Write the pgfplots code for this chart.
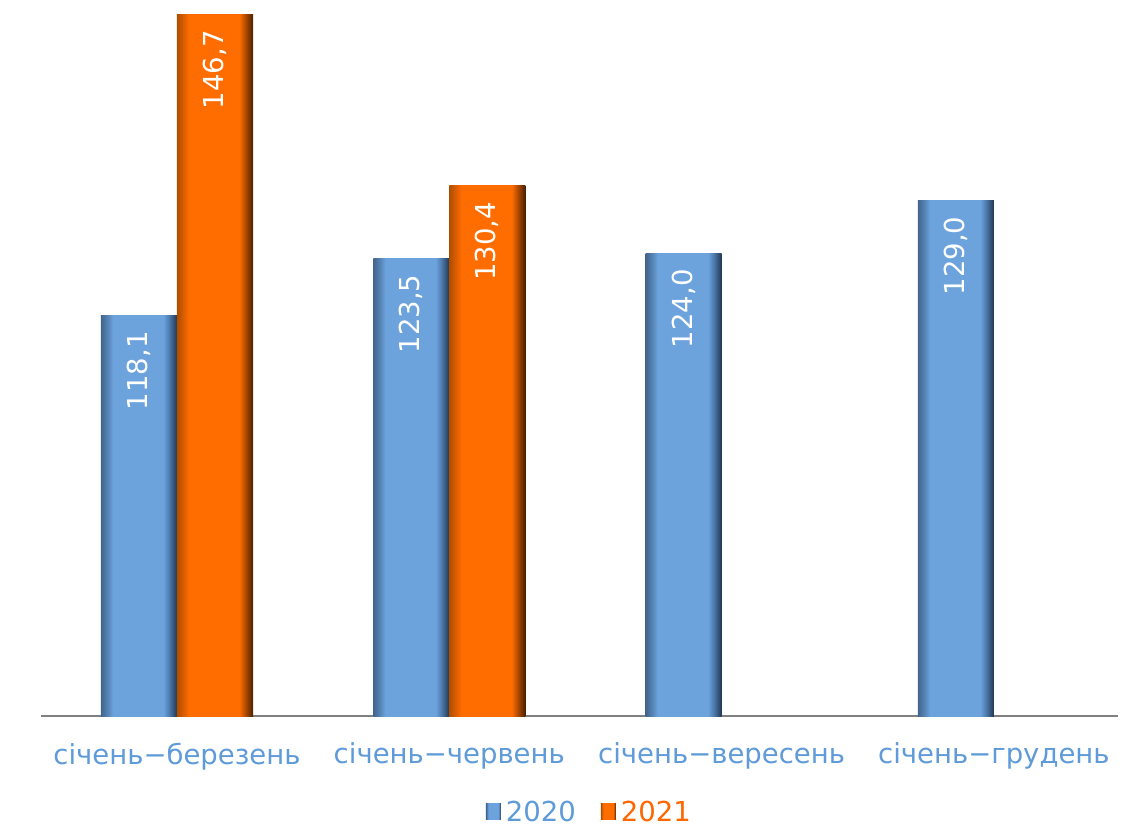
\documentclass[border=0pt]{standalone}
\usepackage{fontspec}
\setmainfont{DejaVu Sans}
\usepackage{pgfplots}
\pgfplotsset{compat=1.18}
\definecolor{bL1}{HTML}{41648C}
\definecolor{bL2}{HTML}{5A88BC}
\definecolor{bM}{HTML}{6DA3DD}
\definecolor{bR1}{HTML}{4A78AA}
\definecolor{bR2}{HTML}{22364F}
\definecolor{oL1}{HTML}{B04E00}
\definecolor{oL2}{HTML}{E26000}
\definecolor{oM}{HTML}{FF6D00}
\definecolor{oR1}{HTML}{B04A00}
\definecolor{oR2}{HTML}{4A2000}
\definecolor{labblue}{HTML}{5F9BD8}
\definecolor{laborange}{HTML}{FF6600}
\definecolor{axisgrey}{HTML}{808080}
\pgfdeclarehorizontalshading{bevelblue}{100bp}{color(0bp)=(bL1); color(25bp)=(bL1); color(30bp)=(bL2); color(33bp)=(bM); color(66bp)=(bM); color(70bp)=(bR1); color(75bp)=(bR2); color(100bp)=(bR2)}
\pgfdeclarehorizontalshading{beveloran}{100bp}{color(0bp)=(oL1); color(25bp)=(oL1); color(30bp)=(oL2); color(33bp)=(oM); color(66bp)=(oM); color(70bp)=(oR1); color(75bp)=(oR2); color(100bp)=(oR2)}
\pgfplotsset{
  blue bar/.style={shade, shading=bevelblue, draw=none, bar shift=-38pt},
  oran bar/.style={shade, shading=beveloran, draw=none, bar shift=38pt},
}
\begin{document}
\begin{tikzpicture}
\useasboundingbox (0,0) rectangle (1140pt,836pt);
\begin{axis}[
  at={(40.85pt,120pt)}, anchor=south west,
  scale only axis, width=1077.2pt, height=715.4pt,
  ybar=0pt, bar width=76pt,
  xmin=-0.5, xmax=3.456, ymin=80, ymax=148,
  axis y line=none, axis x line*=bottom,
  x axis line style={draw=axisgrey, line width=2pt, -},
  xtick={0,1,2,3}, xtick style={draw=none},
  xticklabels={січень−березень, січень−червень, січень−вересень, січень−грудень},
  xticklabel style={font=\fontsize{27.5}{33}\selectfont, text=labblue, yshift=-19pt},
  clip=false,
  nodes near coords,
  /pgf/number format/.cd, use comma, fixed, fixed zerofill, precision=1, assume math mode=true,
  /pgfplots/.cd,
  every node near coord/.append style={rotate=90, anchor=east, text=white, font=\fontsize{27.5}{33}\selectfont, inner xsep=16pt},
  legend style={at={(0.5107,-0.134)}, anchor=center, draw=none, fill=none, legend columns=2,
    font=\fontsize{27.5}{33}\selectfont, nodes={inner xsep=5pt},
    /tikz/every even column/.append style={column sep=20pt}},
  legend image code/.code={\path[#1,draw=none] (0pt,-8pt) rectangle (15pt,8pt);},
]
\addlegendimage{blue bar}
\addlegendentry{\textcolor{labblue}{2020}}
\addlegendimage{oran bar}
\addlegendentry{\textcolor{laborange}{2021}}
\addplot[blue bar] coordinates {(0,118.1)};
\addplot[blue bar] coordinates {(1,123.5)};
\addplot[blue bar] coordinates {(2,124.0)};
\addplot[blue bar] coordinates {(3,129.0)};
\addplot[oran bar] coordinates {(0,146.7)};
\addplot[oran bar] coordinates {(1,130.4)};
\end{axis}
\end{tikzpicture}
\end{document}
